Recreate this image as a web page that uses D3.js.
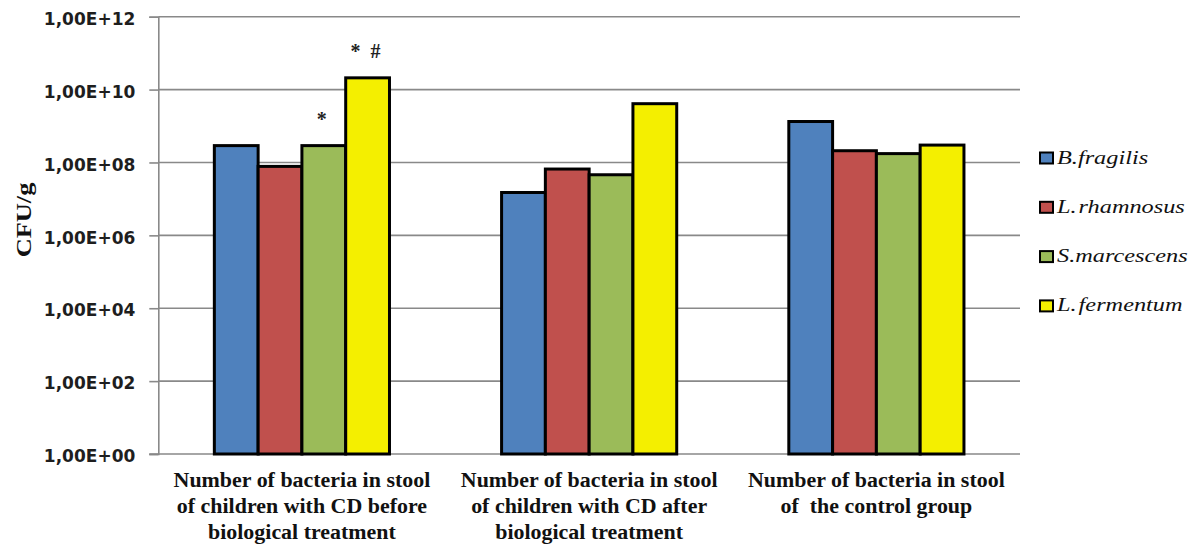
<!DOCTYPE html>
<html>
<head>
<meta charset="utf-8">
<script src="https://cdn.jsdelivr.net/npm/d3@7"></script>
<style>
html,body{margin:0;padding:0;background:#fff;}
svg{display:block;}
</style>
</head>
<body>
<svg id="chart" width="1197" height="547"></svg>
<script>
// ---- data ----
const categories = [
  ["Number of bacteria in stool", "of children with CD before", "biological treatment"],
  ["Number of bacteria in stool", "of children with CD after", "biological treatment"],
  ["Number of bacteria in stool", "of  the control group"]
];
const seriesNames = ["B.fragilis", "L. rhamnosus", "S.marcescens", "L. fermentum"];
const bFragilis   = [2.9e8, 1.5e7, 1.33e9];
const lRhamnosus  = [7.8e7, 6.6e7, 2.1e8];
const sMarcescens = [2.9e8, 4.6e7, 1.75e8];
const lFermentum  = [2.1e10, 4.1e9, 3.0e8];
const tickValues = [1, 1e2, 1e4, 1e6, 1e8, 1e10, 1e12];
const tickLabels = ["1,00E+00", "1,00E+02", "1,00E+04", "1,00E+06", "1,00E+08", "1,00E+10", "1,00E+12"];
const annotations = [
  {cat: 0, series: 2, text: "*"},
  {cat: 0, series: 3, text: "*  #"}
];
const yTitle = "CFU/g";

// ---- layout ----
const colors = ["#4F81BD", "#C0504D", "#9BBB59", "#F4EF00"];
const seriesValues = [bFragilis, lRhamnosus, sMarcescens, lFermentum];
const plotL = 158.3, plotR = 1020, plotT = 16.7, plotB = 454;

const svg = d3.select("#chart");

const y = d3.scaleLog().domain([1, 1e12]).range([plotB, plotT]);
const x0 = d3.scaleBand().domain(d3.range(categories.length)).range([plotL, plotR]).padding(0);
const x1 = d3.scaleBand().domain(d3.range(seriesNames.length)).range([0, x0.bandwidth()])
  .paddingInner(0).paddingOuter(1.28);

// gridlines
svg.append("g").selectAll("line").data(tickValues.slice(1)).join("line")
  .attr("x1", plotL).attr("x2", plotR)
  .attr("y1", d => y(d)).attr("y2", d => y(d))
  .attr("stroke", "#898989").attr("stroke-width", 1.6);

// y axis
const yAxis = d3.axisLeft(y).tickValues(tickValues)
  .tickFormat((d, i) => tickLabels[i]).tickSize(9).tickPadding(14);
const gy = svg.append("g").attr("transform", `translate(${plotL},0)`).call(yAxis);
gy.select(".domain").attr("stroke", "#898989").attr("stroke-width", 1.6);
gy.selectAll(".tick line").attr("stroke", "#898989").attr("stroke-width", 1.6);
gy.selectAll(".tick text")
  .attr("font-family", "DejaVu Sans").attr("font-weight", "bold")
  .attr("font-size", 17).attr("fill", "#1e1e1e").attr("dy", "0.45em");

// bottom axis line
svg.append("line").attr("x1", plotL - 9).attr("x2", plotR)
  .attr("y1", y(1)).attr("y2", y(1))
  .attr("stroke", "#898989").attr("stroke-width", 1.6);

// bars
const groups = svg.append("g").selectAll("g").data(categories).join("g")
  .attr("transform", (d, i) => `translate(${x0(i)},0)`);
groups.selectAll("rect").data((d, ci) => seriesValues.map((vals, si) => ({si, v: vals[ci]})))
  .join("rect")
  .attr("x", d => x1(d.si))
  .attr("width", x1.bandwidth())
  .attr("y", d => y(d.v))
  .attr("height", d => y(1) - y(d.v))
  .attr("fill", d => colors[d.si])
  .attr("stroke", "#000").attr("stroke-width", 3);

// annotations
svg.append("g").selectAll("text").data(annotations).join("text")
  .attr("x", d => x0(d.cat) + x1(d.series) + x1.bandwidth() / 2 - 2)
  .attr("y", d => y(seriesValues[d.series][d.cat]) - 20)
  .attr("text-anchor", "middle")
  .attr("font-family", "Liberation Serif").attr("font-weight", "bold").attr("font-size", 20)
  .attr("fill", "#222")
  .style("white-space", "pre")
  .text(d => d.text);

// x labels
const xl = svg.append("g").selectAll("text").data(categories).join("text")
  .attr("transform", (d, i) => `translate(${x0(i) + x0.bandwidth() / 2},0) scale(1.045,1)`)
  .attr("text-anchor", "middle")
  .attr("font-family", "Liberation Serif").attr("font-weight", "bold")
  .attr("font-size", 21).attr("fill", "#111")
  .style("white-space", "pre");
xl.selectAll("tspan").data(d => d).join("tspan")
  .attr("x", 0).attr("y", (d, i) => 487 + i * 26)
  .text(d => d);

// y title
svg.append("text")
  .attr("transform", "translate(31,220) rotate(-90) scale(1.2,1)")
  .attr("text-anchor", "middle")
  .attr("font-family", "Liberation Serif").attr("font-weight", "bold")
  .attr("font-size", 22).attr("fill", "#111")
  .text(yTitle);

// legend
const leg = svg.append("g").selectAll("g").data(seriesNames).join("g")
  .attr("transform", (d, i) => `translate(1040,${158 + i * 49.3})`);
leg.append("rect").attr("x", 0).attr("y", -5.5).attr("width", 13).attr("height", 11)
  .attr("fill", (d, i) => colors[i]).attr("stroke", "#000").attr("stroke-width", 2);
leg.append("text")
  .attr("transform", "translate(17,5.5) scale(1.35,1)")
  .attr("font-family", "Liberation Serif").attr("font-style", "italic")
  .attr("font-size", 18).attr("fill", "#111")
  .attr("word-spacing", -3)
  .text(d => d);
</script>
</body>
</html>
